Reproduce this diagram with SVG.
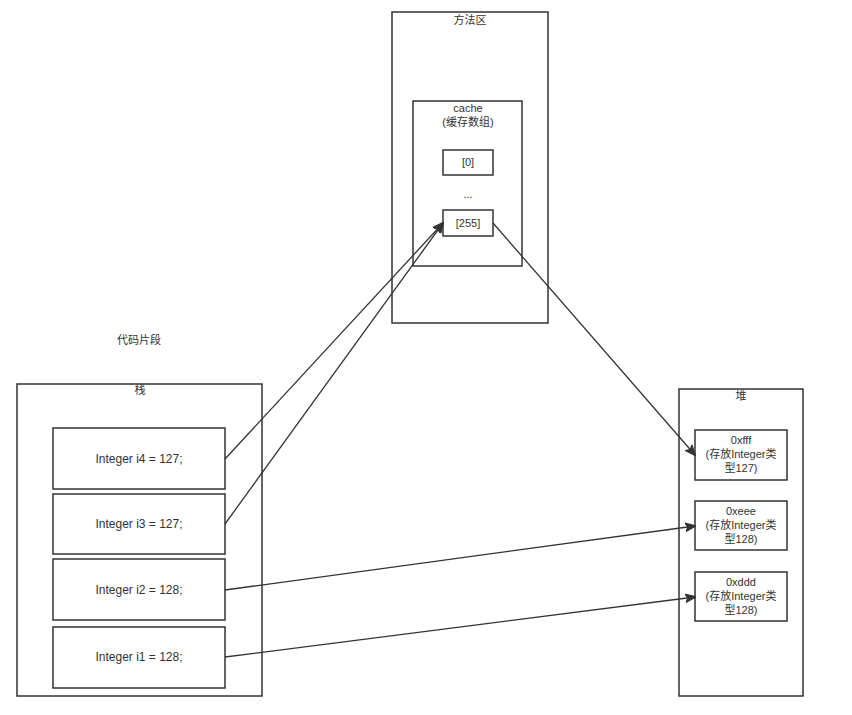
<svg xmlns="http://www.w3.org/2000/svg" width="852" height="715" viewBox="0 0 852 715">
<style>
rect{fill:#fff;stroke:#333;stroke-width:1.5}
text{font-family:"Liberation Sans","Noto Sans CJK SC",sans-serif;font-size:11px;fill:#333;text-anchor:middle}
.code{font-size:12px}
.c line{stroke:#333;stroke-width:1.3;fill:none}
</style>
<defs>
<marker id="a" viewBox="0 0 10 10" refX="9" refY="5" markerWidth="11" markerHeight="11" orient="auto" markerUnits="userSpaceOnUse">
<path d="M0,1 L10,5 L0,9 L2.5,5 Z" fill="#333" stroke="#333"/>
</marker>
</defs>
<rect x="0" y="0" width="852" height="715" style="stroke:none"/>
<g id="method-area">
<rect x="392" y="12" width="156" height="311"/>
<text x="470" y="24">方法区</text>
</g>
<g id="cache">
<rect x="413" y="101" width="109" height="165"/>
<text x="468" y="112">cache</text>
<text x="468" y="126">(缓存数组)</text>
</g>
<g id="c0"><rect x="443" y="150" width="50" height="25"/><text x="468" y="166">[0]</text></g>
<text x="468" y="198">...</text>
<g id="c255"><rect x="443" y="210" width="50" height="26"/><text x="468" y="227">[255]</text></g>
<text x="139" y="344">代码片段</text>
<g id="stack">
<rect x="17" y="384" width="245" height="312"/>
<text x="140" y="394">栈</text>
</g>
<g id="i4"><rect x="53" y="428" width="172" height="61"/><text class="code" x="139" y="463">Integer i4 = 127;</text></g>
<g id="i3"><rect x="53" y="494" width="172" height="60"/><text class="code" x="139" y="528">Integer i3 = 127;</text></g>
<g id="i2"><rect x="53" y="559" width="172" height="61"/><text class="code" x="139" y="594">Integer i2 = 128;</text></g>
<g id="i1"><rect x="53" y="627" width="172" height="61"/><text class="code" x="139" y="661">Integer i1 = 128;</text></g>
<g id="heap">
<rect x="679" y="389" width="124" height="307"/>
<text x="741" y="400">堆</text>
</g>
<g id="hfff"><rect x="695" y="430" width="92" height="50"/><text x="741" y="444">0xfff</text><text x="741" y="458">(存放Integer类</text><text x="741" y="472">型127)</text></g>
<g id="heee"><rect x="695" y="501" width="92" height="49"/><text x="741" y="515">0xeee</text><text x="741" y="529">(存放Integer类</text><text x="741" y="543">型128)</text></g>
<g id="hddd"><rect x="695" y="572" width="92" height="49"/><text x="741" y="586">0xddd</text><text x="741" y="600">(存放Integer类</text><text x="741" y="614">型128)</text></g>
<g class="c" id="connectors">
<line x1="225" y1="459" x2="443" y2="223" marker-end="url(#a)"/>
<line x1="225" y1="524" x2="443" y2="223" marker-end="url(#a)"/>
<line x1="493" y1="223" x2="695" y2="455" marker-end="url(#a)"/>
<line x1="225" y1="590" x2="695" y2="526" marker-end="url(#a)"/>
<line x1="225" y1="657" x2="695" y2="597" marker-end="url(#a)"/>
</g>
</svg>
